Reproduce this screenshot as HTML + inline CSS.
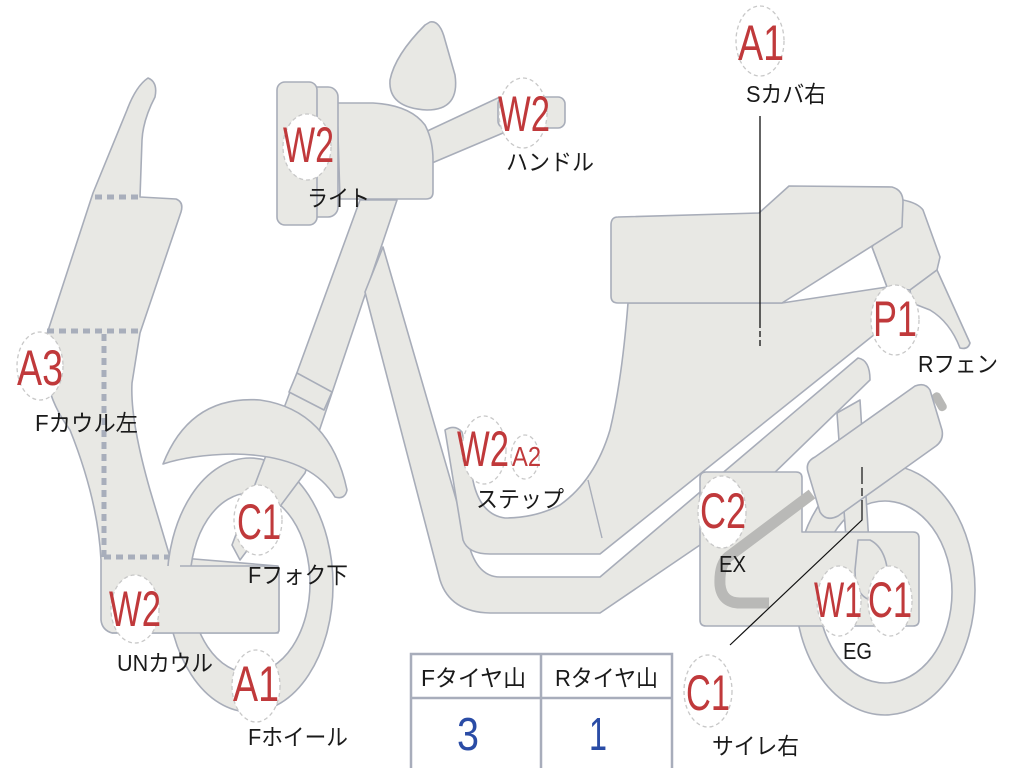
<!DOCTYPE html>
<html><head><meta charset="utf-8"><style>
html,body{margin:0;padding:0;background:#fff;width:1024px;height:768px;overflow:hidden}
svg{display:block}
.p{fill:#e8e8e4;stroke:#a8adb9;stroke-width:1.6;stroke-linejoin:round}
.d{fill:none;stroke:#a8aebb;stroke-width:5;stroke-dasharray:7 5}
.b{fill:#fff;stroke:#c8c8c8;stroke-width:1.3;stroke-dasharray:4 3}
.r{font-family:"Liberation Sans",sans-serif;fill:#c0393b;font-size:50px}
.k{font-family:"Liberation Sans","Noto Sans CJK JP",sans-serif;fill:#1a1a1a;font-size:23px}
</style></head><body>
<svg width="1024" height="768" viewBox="0 0 1024 768" xmlns="http://www.w3.org/2000/svg">
<!-- front cowl -->
<path class="p" d="M148,78 Q158,82 155,97 Q143,120 142,140 L140,197 L176,199 Q184,202 181,212 L140,333 L132,383 Q130,420 150,490 L170,557 L278,566 L278,633 L112,633 Q102,630 101,620 L101,560 Q98,500 70,430 Q40,390 45,340 L93,193 L127,110 Q136,86 148,78 Z"/>
<path class="d" d="M95,197 H140 M47,331 H140 M104,334 V557 M104,557 H170"/>
<!-- front wheel -->
<path class="p" fill-rule="evenodd" d="M167,585 a83,127 0 1,0 166,0 a83,127 0 1,0 -166,0 Z M190,583 a60,90 0 1,0 120,0 a60,90 0 1,0 -120,0 Z"/>
<!-- fork -->
<path class="p" d="M360,200 L397,200 L305,473 L240,560 L232,545 L287,400 Z"/>
<path class="p" d="M297,373 L332,392 L324,410 L289,392 Z"/>
<path class="p" d="M180,566 L278,566 Q280,566 280,570 L280,630 Q280,633 276,633 L140,633 L140,566 Z" style="stroke:none"/>
<path fill="none" stroke="#a8adb9" stroke-width="1.6" d="M180,566 L276,566 Q279,566 279,570 L279,630 Q279,633 275,633 L112,633"/>
<!-- fender -->
<path class="p" d="M163,464 Q190,395 260,400 Q330,410 347,490 Q345,500 335,497 Q310,455 233,454 Q190,455 163,464 Z"/>
<!-- down tube / frame -->
<path class="p" d="M365,292 L383,247 L467,537 Q475,577 500,577 L600,577 L858,358 Q870,360 870,380 L700,545 L600,613 L490,613 Q450,612 440,580 Z"/>
<!-- head -->
<path class="p" d="M423,133 L500,97 L503,133 L432,163 Z"/>
<rect class="p" x="498" y="97" width="67" height="31" rx="7"/>
<path class="p" d="M430,22 Q440,20 445,40 L455,75 Q460,110 427,110 Q388,108 390,80 Q395,55 425,25 Z"/>
<path class="p" d="M337,103 L373,103 Q410,105 425,125 Q433,140 433,160 L433,192 Q433,199 426,199 L340,199 Z"/>
<rect class="p" x="300" y="87" width="38" height="130" rx="10"/>
<rect class="p" x="277" y="82" width="40" height="143" rx="8"/>
<!-- seat and body with floor -->
<path class="p" d="M628,303 Q622,380 610,430 Q595,480 560,505 Q535,518 505,518 Q482,515 474,485 L462,432 Q455,424 445,430 L463,540 Q468,554 490,554 L600,554 L880,330 L887,287 L782,303 Z"/>
<path fill="none" stroke="#a8adb9" stroke-width="1.4" d="M588,480 L602,538"/>
<path class="p" d="M872,247 L903,200 Q918,203 923,210 L940,257 L937,270 L910,290 L887,287 Z"/>
<path class="p" d="M910,290 L937,270 L970,343 Q968,350 960,348 Q950,322 930,310 L912,303 Z"/>
<path class="p" d="M618,217 L759,213 L789,186 L892,187 Q903,190 903,202 L902,227 L782,303 L618,303 Q611,303 611,296 L611,225 Q611,217 618,217 Z"/>
<path fill="none" stroke="#a8adb9" stroke-width="1.4" d="M872,247 L887,287"/>
<!-- rear wheel -->
<path class="p" fill-rule="evenodd" d="M795,590 a90,125 0 1,0 180,0 a90,125 0 1,0 -180,0 Z M818,592 a67,91 0 1,0 134,0 a67,91 0 1,0 -134,0 Z"/>
<path class="p" d="M837,413 L860,400 L870,560 L848,566 Z"/>
<!-- engine box -->
<path class="p" d="M706,472 L796,472 Q802,472 802,478 L802,532 L913,532 Q919,532 919,538 L919,620 Q919,626 913,626 L706,626 Q700,626 700,620 L700,478 Q700,472 706,472 Z"/>
<path class="p" d="M858,540 L870,540 Q890,550 888,590 L870,600 Q855,595 855,570 Z"/>
<path fill="none" stroke="#b9b9b7" stroke-width="11" stroke-linejoin="round" d="M812,494 L728,557 Q719,565 720,585 Q722,603 740,603 L769,603"/>
<rect x="935" y="392" width="9" height="20" rx="4" fill="#b8b8b6" transform="rotate(-30 939 402)"/>
<path class="p" d="M815,457 L915,386 Q925,382 930,390 L942,430 Q944,440 936,446 L838,516 Q826,522 820,512 L808,472 Q805,462 815,457 Z"/>
<!-- leader lines -->
<path fill="none" stroke="#111" stroke-width="1.3" d="M760,116 V328 M760,331 V337 M760,340 V346"/>
<path fill="none" stroke="#111" stroke-width="1.2" d="M730,645 L862,520 V500 M862,496 V488 M862,484 V467"/>
<!-- badges -->
<ellipse class="b" cx="760" cy="41" rx="24" ry="35"/>
<ellipse class="b" cx="523" cy="113" rx="24" ry="35"/>
<ellipse class="b" cx="307" cy="147" rx="24" ry="33"/>
<ellipse class="b" cx="40" cy="366" rx="23" ry="34"/>
<ellipse class="b" cx="484" cy="450" rx="22" ry="34"/>
<ellipse class="b" cx="525" cy="457" rx="14" ry="22"/>
<ellipse class="b" cx="258" cy="520" rx="24" ry="35"/>
<ellipse class="b" cx="135" cy="609" rx="24" ry="34"/>
<ellipse class="b" cx="256" cy="686" rx="24" ry="36"/>
<ellipse class="b" cx="895" cy="320" rx="24" ry="35"/>
<ellipse class="b" cx="722" cy="512" rx="24" ry="36"/>
<ellipse class="b" cx="839" cy="601" rx="22" ry="35"/>
<ellipse class="b" cx="890" cy="601" rx="22" ry="35"/>
<ellipse class="b" cx="708" cy="691" rx="24" ry="36"/>
<!-- red labels -->
<text class="r" x="738" y="60" textLength="46" lengthAdjust="spacingAndGlyphs">A1</text>
<text class="r" x="498" y="131" textLength="52" lengthAdjust="spacingAndGlyphs">W2</text>
<text class="r" x="283" y="162" textLength="51" lengthAdjust="spacingAndGlyphs">W2</text>
<text class="r" x="17" y="385" textLength="46" lengthAdjust="spacingAndGlyphs">A3</text>
<text class="r" x="457" y="466" textLength="52" lengthAdjust="spacingAndGlyphs">W2</text>
<text class="r" x="512" y="466" style="font-size:28px" textLength="29" lengthAdjust="spacingAndGlyphs">A2</text>
<text class="r" x="237" y="539" textLength="44" lengthAdjust="spacingAndGlyphs">C1</text>
<text class="r" x="109" y="626" textLength="52" lengthAdjust="spacingAndGlyphs">W2</text>
<text class="r" x="233" y="701" textLength="46" lengthAdjust="spacingAndGlyphs">A1</text>
<text class="r" x="873" y="336" textLength="44" lengthAdjust="spacingAndGlyphs">P1</text>
<text class="r" x="700" y="528" textLength="46" lengthAdjust="spacingAndGlyphs">C2</text>
<text class="r" x="814" y="617" textLength="48" lengthAdjust="spacingAndGlyphs">W1</text>
<text class="r" x="868" y="617" textLength="44" lengthAdjust="spacingAndGlyphs">C1</text>
<text class="r" x="686" y="710" textLength="44" lengthAdjust="spacingAndGlyphs">C1</text>
<!-- black labels -->
<text class="k" x="746" y="102" textLength="80" lengthAdjust="spacingAndGlyphs">Sカバ右</text>
<text class="k" x="506" y="170" textLength="88" lengthAdjust="spacingAndGlyphs">ハンドル</text>
<text class="k" x="307" y="206" textLength="63" lengthAdjust="spacingAndGlyphs">ライト</text>
<text class="k" x="35" y="431" textLength="103" lengthAdjust="spacingAndGlyphs">Fカウル左</text>
<text class="k" x="476" y="507" textLength="88" lengthAdjust="spacingAndGlyphs">ステップ</text>
<text class="k" x="248" y="583" textLength="100" lengthAdjust="spacingAndGlyphs">Fフォク下</text>
<text class="k" x="117" y="671" textLength="96" lengthAdjust="spacingAndGlyphs">UNカウル</text>
<text class="k" x="248" y="745" textLength="100" lengthAdjust="spacingAndGlyphs">Fホイール</text>
<text class="k" x="918" y="372" textLength="80" lengthAdjust="spacingAndGlyphs">Rフェン</text>
<text class="k" x="719" y="572" textLength="27" lengthAdjust="spacingAndGlyphs">EX</text>
<text class="k" x="843" y="659" textLength="29" lengthAdjust="spacingAndGlyphs">EG</text>
<text class="k" x="712" y="754" textLength="87" lengthAdjust="spacingAndGlyphs">サイレ右</text>
<!-- table -->
<rect x="411" y="654" width="261" height="120" fill="#fff" stroke="#a8adbb" stroke-width="2.5"/>
<line x1="411" y1="698" x2="672" y2="698" stroke="#a8adbb" stroke-width="2.5"/>
<line x1="541" y1="654" x2="541" y2="768" stroke="#a8adbb" stroke-width="2.5"/>
<text class="k" x="421" y="686" textLength="105" lengthAdjust="spacingAndGlyphs">Fタイヤ山</text>
<text class="k" x="555" y="686" textLength="103" lengthAdjust="spacingAndGlyphs">Rタイヤ山</text>
<text x="468" y="750" text-anchor="middle" style="font-family:'Liberation Sans',sans-serif;font-size:46px;fill:#2a4ca6" textLength="22" lengthAdjust="spacingAndGlyphs">3</text>
<text x="598" y="750" text-anchor="middle" style="font-family:'Liberation Sans',sans-serif;font-size:46px;fill:#2a4ca6" textLength="18" lengthAdjust="spacingAndGlyphs">1</text>
</svg>
</body></html>
